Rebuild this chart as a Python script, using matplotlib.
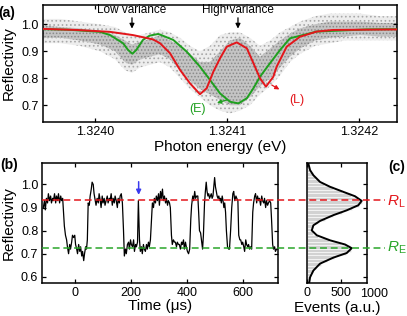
import numpy as np
import matplotlib
matplotlib.use('Agg')
import matplotlib.pyplot as plt
import matplotlib.transforms as mtrans
from matplotlib.lines import Line2D
from matplotlib.ticker import FormatStrFormatter

plt.rcParams['font.family'] = ['Liberation Sans', 'DejaVu Sans']
plt.rcParams['mathtext.fontset'] = 'custom'
plt.rcParams['mathtext.rm'] = 'Liberation Sans'
plt.rcParams['mathtext.it'] = 'Liberation Sans:italic'
plt.rcParams['hatch.linewidth'] = 0.7

RED = '#e3161b'
GREEN = '#1fa01f'

# ---- (a) reflectivity spectrum ----
# gray measured cloud: outer envelope and dense core
cloud_e = [1.3239606, 1.3239735, 1.3239886, 1.3240038, 1.3240152, 1.3240227, 1.3240280,
           1.3240341, 1.3240417, 1.3240492, 1.3240568, 1.3240644, 1.3240720, 1.3240795,
           1.3240871, 1.3240947, 1.3241023, 1.3241098, 1.3241174, 1.3241250, 1.3241326,
           1.3241402, 1.3241477, 1.3241553, 1.3241667, 1.3241780, 1.3241894, 1.3242008,
           1.3242159, 1.3242288]
cloud_lo = [0.93, 0.93, 0.92, 0.90, 0.87, 0.83, 0.82, 0.84, 0.85, 0.86, 0.84, 0.80, 0.76, 0.73,
            0.70, 0.68, 0.67, 0.68, 0.70, 0.74, 0.77, 0.81, 0.86, 0.89, 0.92, 0.93, 0.94, 0.94,
            0.94, 0.94]
cloud_hi = [1.02, 1.02, 1.01, 1.00, 0.99, 0.97, 0.96, 0.96, 0.97, 0.98, 0.97, 0.95, 0.92, 0.90,
            0.92, 0.96, 0.97, 0.97, 0.95, 0.92, 0.94, 0.97, 0.99, 1.01, 1.03, 1.04, 1.04, 1.04,
            1.03, 1.03]
core_lo = [0.95, 0.95, 0.94, 0.925, 0.90, 0.86, 0.85, 0.87, 0.88, 0.89, 0.87, 0.83, 0.79, 0.76,
           0.74, 0.72, 0.70, 0.70, 0.73, 0.77, 0.80, 0.84, 0.88, 0.91, 0.94, 0.95, 0.955, 0.96,
           0.955, 0.955]
core_hi = [0.995, 0.99, 0.985, 0.975, 0.96, 0.94, 0.925, 0.935, 0.945, 0.96, 0.94, 0.92, 0.89,
           0.86, 0.86, 0.90, 0.94, 0.95, 0.92, 0.88, 0.91, 0.94, 0.965, 0.985, 1.0, 1.01, 1.01,
           1.01, 1.005, 1.005]

# model curves
late_e = [1.3239606, 1.3239860, 1.3240113, 1.3240288, 1.3240439, 1.3240492, 1.3240568,
          1.3240644, 1.3240720, 1.3240795, 1.3240846, 1.3240896, 1.3240947, 1.3240998,
          1.3241074, 1.3241150, 1.3241200, 1.3241250, 1.3241295, 1.3241351, 1.3241376,
          1.3241452, 1.3241553, 1.3241679, 1.3241803, 1.3242288]
late_r = [0.983, 0.979, 0.972, 0.960, 0.944, 0.930, 0.893, 0.831, 0.781, 0.741, 0.763, 0.824,
          0.874, 0.917, 0.933, 0.911, 0.856, 0.800, 0.769, 0.806, 0.843, 0.917, 0.954, 0.973,
          0.979, 0.981]
early_e = [1.3239606, 1.3239795, 1.3240038, 1.3240114, 1.3240212, 1.3240250, 1.3240283,
           1.3240313, 1.3240363, 1.3240414, 1.3240477, 1.3240492, 1.3240593, 1.3240694,
           1.3240795, 1.3240871, 1.3240947, 1.3241023, 1.3241086, 1.3241150, 1.3241200,
           1.3241250, 1.3241326, 1.3241402, 1.3241477, 1.3241679, 1.3242058, 1.3242288]
early_r = [0.982, 0.980, 0.972, 0.960, 0.930, 0.905, 0.891, 0.905, 0.942, 0.958, 0.964, 0.962,
           0.942, 0.899, 0.843, 0.794, 0.744, 0.713, 0.707, 0.726, 0.763, 0.806, 0.856, 0.905,
           0.948, 0.973, 0.981, 0.982]

# ---- (b) time trace ----
t_us = [-112, -108, -105, -101, -97, -94, -90, -86, -83, -79, -76, -72, -68, -65, -61, -58, -54,
        -50, -47, -43, -40, -37, -33, -29, -26, -22, -18, -15, -11, -8, -4, 0, 3, 7, 10, 14, 18,
        21, 25, 28, 32, 35, 39, 42, 45, 48, 52, 55, 59, 62, 66, 69, 73, 76, 80, 84, 87, 91, 94,
        98, 101, 105, 108, 112, 116, 119, 123, 126, 130, 134, 137, 141, 144, 148, 152, 155, 159,
        162, 166, 170, 174, 177, 181, 184, 188, 192, 195, 199, 202, 206, 210, 213, 217, 220, 224,
        227, 231, 234, 238, 241, 245, 248, 252, 256, 259, 263, 266, 270, 274, 277, 281, 284, 288,
        291, 295, 299, 302, 306, 309, 313, 316, 320, 324, 327, 331, 334, 338, 341, 345, 348, 352,
        356, 359, 363, 366, 370, 373, 377, 381, 384, 388, 391, 395, 398, 402, 406, 410, 414, 417,
        421, 424, 428, 431, 435, 439, 442, 445, 449, 452, 456, 459, 463, 466, 469, 472, 475, 478,
        481, 484, 487, 490, 493, 496, 499, 502, 505, 508, 511, 514, 517, 520, 523, 526, 529, 532,
        535, 538, 541, 545, 549, 552, 556, 560, 564, 567, 571, 575, 578, 582, 585, 589, 592, 596,
        599, 603, 606, 610, 613, 617, 620, 624, 627, 631, 635, 638, 642, 645, 649, 652, 656, 659,
        663, 667, 670, 674, 677, 681, 684, 688, 691, 695, 699, 702, 706, 709, 713, 716, 720, 724]
refl = [0.90, 0.93, 0.89, 0.94, 0.92, 0.96, 0.93, 0.95, 0.92, 0.94, 0.93, 0.96, 0.92, 0.95, 0.93,
        0.96, 0.92, 0.95, 0.93, 0.94, 0.88, 0.82, 0.78, 0.76, 0.73, 0.70, 0.74, 0.72, 0.75, 0.78,
        0.77, 0.78, 0.74, 0.72, 0.70, 0.74, 0.71, 0.73, 0.69, 0.71, 0.67, 0.70, 0.73, 0.72, 0.76,
        0.92, 0.91, 0.95, 0.98, 1.01, 1.00, 0.96, 0.93, 0.91, 0.94, 0.92, 0.96, 0.93, 0.90, 0.95,
        0.92, 0.94, 0.91, 0.93, 0.95, 0.92, 0.94, 0.93, 0.96, 0.91, 0.94, 0.92, 0.95, 0.93, 0.90,
        0.94, 0.92, 0.95, 0.96, 0.92, 0.80, 0.69, 0.72, 0.70, 0.74, 0.75, 0.72, 0.76, 0.74, 0.73,
        0.76, 0.71, 0.74, 0.73, 0.75, 0.93, 0.76, 0.71, 0.73, 0.70, 0.74, 0.72, 0.71, 0.74, 0.72,
        0.75, 0.73, 0.76, 0.85, 0.92, 0.90, 0.94, 0.92, 0.95, 0.93, 0.96, 0.91, 0.97, 0.94, 0.98,
        0.93, 0.95, 0.92, 0.94, 0.91, 0.93, 0.92, 0.90, 0.78, 0.74, 0.76, 0.75, 0.75, 0.73, 0.75,
        0.74, 0.74, 0.72, 0.75, 0.74, 0.76, 0.72, 0.75, 0.73, 0.71, 0.70, 0.72, 0.85, 0.91, 0.95,
        0.93, 0.97, 0.94, 0.95, 0.95, 0.88, 0.80, 0.79, 0.76, 0.72, 0.78, 0.92, 0.97, 1.01, 0.97,
        0.95, 0.96, 0.94, 0.95, 0.96, 0.94, 0.95, 0.99, 1.03, 0.99, 0.97, 0.95, 0.94, 0.95, 0.93,
        0.94, 0.92, 0.95, 0.93, 0.90, 0.92, 0.88, 0.80, 0.73, 0.72, 0.72, 0.80, 0.90, 0.96, 0.97,
        0.93, 0.95, 0.94, 0.93, 0.78, 0.76, 0.76, 0.74, 0.75, 0.73, 0.71, 0.76, 0.74, 0.73, 0.74,
        0.72, 0.73, 0.72, 0.88, 0.92, 0.95, 0.96, 0.92, 0.95, 0.93, 0.94, 0.91, 0.95, 0.93, 0.92,
        0.94, 0.90, 0.93, 0.91, 0.92, 0.93, 0.92, 0.85, 0.74, 0.72, 0.73, 0.71, 0.72, 0.72]
R_L = 0.932
R_E = 0.724

# ---- (c) histogram of reflectivity ----
hist_r = [0.580, 0.595, 0.610, 0.625, 0.640, 0.655, 0.670, 0.685, 0.700, 0.715, 0.730, 0.745,
          0.760, 0.775, 0.790, 0.805, 0.820, 0.835, 0.850, 0.865, 0.880, 0.895, 0.910, 0.925,
          0.940, 0.955, 0.970, 0.985, 1.000, 1.015, 1.030, 1.045, 1.060, 1.075, 1.090]
hist_n = [35, 45, 65, 95, 140, 200, 290, 400, 580, 650, 640, 500, 320, 170, 95, 70, 90, 160,
          260, 390, 520, 660, 770, 810, 760, 650, 520, 380, 250, 175, 120, 85, 50, 30, 20]
fit_r = [0.570, 0.598, 0.627, 0.657, 0.683, 0.703, 0.724, 0.740, 0.758, 0.780, 0.801, 0.823,
         0.842, 0.867, 0.888, 0.910, 0.929, 0.949, 0.968, 0.990, 1.011, 1.040, 1.062, 1.091]
fit_n = [30, 45, 94, 193, 390, 589, 663, 564, 341, 144, 70, 94, 193, 390, 589, 761, 811, 712,
         539, 341, 193, 94, 45, 19]


fig = plt.figure(figsize=(4.07, 3.16), dpi=100)
axa = fig.add_axes([0.1057, 0.6139, 0.8698, 0.3703])
axb = fig.add_axes([0.1044, 0.1044, 0.5786, 0.3797])
axc = fig.add_axes([0.7531, 0.1044, 0.1486, 0.3797])

for ax in (axa, axb, axc):
    ax.tick_params(direction='in', top=True, right=True, length=3, width=0.9,
                   labelsize=9, pad=3)
    for s in ax.spines.values():
        s.set_linewidth(1.1)

# (a)
axa.fill_between(cloud_e, cloud_lo, cloud_hi, facecolor='#ededed', edgecolor='#a8a8a8',
                 hatch='....', linewidth=0, zorder=1)
axa.fill_between(cloud_e, core_lo, core_hi, facecolor='#c4c4c4', edgecolor='#8a8a8a',
                 hatch='.....', linewidth=0, zorder=1)
axa.plot(early_e, early_r, color=GREEN, lw=1.4, zorder=3)
axa.plot(late_e, late_r, color=RED, lw=1.4, zorder=4)
axa.set_xlim(1.3239606, 1.3242288)
axa.set_ylim(0.638, 1.0715)
axa.set_xticks([1.3240, 1.3241, 1.3242])
axa.xaxis.set_major_formatter(FormatStrFormatter('%.4f'))
axa.set_yticks([0.7, 0.8, 0.9, 1.0])
axa.yaxis.set_major_formatter(FormatStrFormatter('%.1f'))
axa.set_xlabel('Photon energy (eV)', fontsize=11, labelpad=1)
axa.set_ylabel('Reflectivity', fontsize=11, labelpad=4)

arr = dict(arrowstyle='-|>', color='black', lw=0.9, mutation_scale=7, shrinkA=0, shrinkB=0)
axa.annotate('', xy=(1.3240280, 0.984), xytext=(1.3240280, 1.024), arrowprops=arr)
axa.annotate('', xy=(1.3241083, 0.984), xytext=(1.3241083, 1.024), arrowprops=arr)
axa.text(1.3240280, 1.054, 'Low variance', ha='center', va='center', fontsize=8.5)
axa.text(1.3241083, 1.054, 'High variance', ha='center', va='center', fontsize=8.5)

axa.annotate('(E)', xy=(1.3241000, 0.720), xytext=(1.3240780, 0.687),
             color=GREEN, fontsize=9, ha='center', va='center',
             arrowprops=dict(arrowstyle='<|-', color=GREEN, lw=0.9, mutation_scale=6,
                             shrinkA=6, shrinkB=0))
axa.annotate('(L)', xy=(1.3241339, 0.775), xytext=(1.3241530, 0.721),
             color=RED, fontsize=9, ha='center', va='center',
             arrowprops=dict(arrowstyle='<|-', color=RED, lw=0.9, mutation_scale=6,
                             shrinkA=6, shrinkB=0))

# (b)
axb.plot(t_us, refl, color='black', lw=0.9)
axb.set_xlim(-115, 725)
axb.set_ylim(0.573, 1.093)
axb.set_xticks([0, 200, 400, 600])
axb.set_yticks([0.6, 0.7, 0.8, 0.9, 1.0])
axb.yaxis.set_major_formatter(FormatStrFormatter('%.1f'))
axb.set_xlabel('Time (μs)', fontsize=11, labelpad=0)
axb.set_ylabel('Reflectivity', fontsize=11, labelpad=4)
axb.annotate('', xy=(228, 0.955), xytext=(228, 1.012),
             arrowprops=dict(arrowstyle='-|>', color='#3a3aee', lw=1.1, mutation_scale=7,
                             shrinkA=0, shrinkB=0))

# (c)
axc.barh(hist_r, hist_n, height=0.015, color='#d2d2d2', edgecolor='white', linewidth=0.4)
axc.plot(fit_n, fit_r, color='black', lw=1.4)
axc.set_xlim(-8, 890)
axc.set_ylim(0.573, 1.093)
axc.set_xticks([0, 500])
axc.set_yticks([0.6, 0.7, 0.8, 0.9, 1.0])
axc.tick_params(labelleft=False, left=False)
axc.text(1000, -0.045, '1000', transform=axc.get_xaxis_transform(), ha='center', va='top',
         fontsize=9, clip_on=False)
axc.set_xlabel('Events (a.u.)', fontsize=11, labelpad=1)

# dashed levels running across (b) and (c)
tr = mtrans.blended_transform_factory(fig.transFigure, axb.transData)
for lvl, col in ((R_L, RED), (R_E, '#2aa52a')):
    fig.add_artist(Line2D([0.1044, 0.946], [lvl, lvl], transform=tr, color=col, lw=1.1,
                          linestyle=(0, (4.5, 2.5))))
fig.text(0.974, 0.362, r'$R_\mathrm{L}$', color=RED, fontsize=11, ha='center', va='center')
fig.text(0.974, 0.215, r'$R_\mathrm{E}$', color='#2aa52a', fontsize=11, ha='center', va='center')

fig.text(0.017, 0.960, '(a)', fontsize=10, fontweight='bold', ha='center', va='center')
fig.text(0.022, 0.478, '(b)', fontsize=10, fontweight='bold', ha='center', va='center')
fig.text(0.975, 0.472, '(c)', fontsize=10, fontweight='bold', ha='center', va='center')

fig.savefig('out.png', dpi=100)
